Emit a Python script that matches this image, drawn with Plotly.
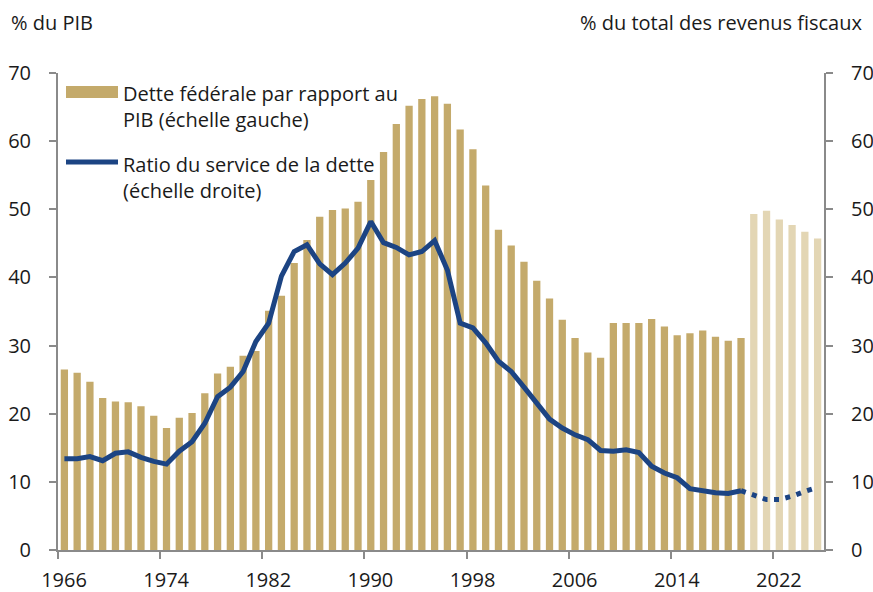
import plotly.graph_objects as go

# ---- data ----
hist_years = list(range(1966, 2020))
proj_years = list(range(2020, 2026))

debt_hist = [26.5, 26.0, 24.7, 22.3, 21.8, 21.7, 21.1, 19.7, 17.9, 19.4,
             20.1, 23.0, 25.9, 26.9, 28.5, 29.2, 35.1, 37.3, 42.1, 45.5,
             48.9, 49.9, 50.1, 51.1, 54.3, 58.4, 62.5, 65.2, 66.2, 66.6,
             65.5, 61.7, 58.8, 53.5, 47.0, 44.7, 42.3, 39.5, 36.9, 33.8,
             31.1, 29.0, 28.2, 33.3, 33.3, 33.3, 33.9, 32.8, 31.5, 31.8,
             32.2, 31.3, 30.7, 31.1]
debt_proj = [49.3, 49.8, 48.5, 47.7, 46.7, 45.7]

service_hist = [13.4, 13.4, 13.7, 13.1, 14.2, 14.4, 13.6, 13.0, 12.6, 14.5,
                15.9, 18.6, 22.5, 23.9, 26.2, 30.6, 33.3, 40.2, 43.8, 44.8,
                42.0, 40.4, 42.1, 44.3, 48.2, 45.1, 44.4, 43.3, 43.8, 45.4,
                41.1, 33.3, 32.6, 30.4, 27.7, 26.2, 23.9, 21.5, 19.2, 17.9,
                16.9, 16.2, 14.6, 14.5, 14.7, 14.3, 12.3, 11.3, 10.6, 9.0,
                8.7, 8.4, 8.3, 8.7]
service_proj = [8.0, 7.4, 7.4, 7.9, 8.6, 9.2]

tick_labels = ["1966", "1974", "1982", "1990", "1998", "2006", "2014", "2022"]
y_ticks = [0, 10, 20, 30, 40, 50, 60, 70]

legend_bar = "Dette fédérale par rapport au<br>PIB (échelle gauche)"
legend_line = "Ratio du service de la dette<br>(échelle droite)"
title_left = "% du PIB"
title_right = "% du total des revenus fiscaux"

# ---- styles ----
BAR_HIST = "#C4AA6B"
BAR_PROJ = "#E3D6B4"
NAVY = "#1C4483"
AXIS = "#8A8A8A"
FONT = "Open Sans"
FS = 20
TXT = "#1a1a1a"

fig = go.Figure()
fig.add_trace(go.Bar(x=hist_years, y=debt_hist, marker=dict(color=BAR_HIST, line=dict(width=0)),
                     showlegend=False))
fig.add_trace(go.Bar(x=proj_years, y=debt_proj, marker=dict(color=BAR_PROJ, line=dict(width=0)),
                     showlegend=False))
fig.add_trace(go.Scatter(x=hist_years, y=service_hist, mode="lines", yaxis="y2",
                         line=dict(color=NAVY, width=5), showlegend=False))
fig.add_trace(go.Scatter(x=[hist_years[-1]] + proj_years, y=[service_hist[-1]] + service_proj,
                         mode="lines", yaxis="y2",
                         line=dict(color=NAVY, width=5, dash="5px,6.5px"), showlegend=False))

W, H = 873, 592
ml, mr, mt, mb = 58, 49, 73, 42
pw, ph = W - ml - mr, H - mt - mb


def px_x(px):
    return (px - ml) / pw


def px_y(py):
    return (H - mb - py) / ph


tickvals_x = [int(t) - 0.5 for t in tick_labels]

axis_common = dict(showline=True, linecolor=AXIS, linewidth=2, ticks="outside",
                   ticklen=7, tickwidth=2, tickcolor=AXIS, showgrid=False, zeroline=False,
                   automargin=False,
                   tickfont=dict(family=FONT, size=FS, color=TXT))

fig.update_layout(
    template="none",
    width=W, height=H,
    margin=dict(l=ml, r=mr, t=mt, b=mb, autoexpand=False),
    paper_bgcolor="white", plot_bgcolor="white",
    barmode="overlay", bargap=0.43,
    font=dict(family=FONT, size=FS, color=TXT),
    xaxis=dict(range=[1965.5, 2025.5], tickvals=tickvals_x, ticktext=tick_labels,
               ticklabelshift=6, ticklabelstandoff=4, **axis_common),
    yaxis=dict(range=[0, 70], tickvals=y_ticks, ticklabelstandoff=14, **axis_common),
    yaxis2=dict(range=[0, 70], tickvals=y_ticks, overlaying="y", side="right",
                ticklabelstandoff=14, **axis_common),
    shapes=[
        dict(type="rect", xref="paper", yref="paper", x0=px_x(66), x1=px_x(118),
             y0=px_y(98), y1=px_y(86), fillcolor=BAR_HIST, line=dict(width=0)),
        dict(type="line", xref="paper", yref="paper", x0=px_x(66), x1=px_x(118),
             y0=px_y(162), y1=px_y(162), line=dict(color=NAVY, width=5)),
    ],
    annotations=[
        dict(text=legend_bar, xref="paper", yref="paper", x=px_x(121), y=px_y(106.5),
             xanchor="left", yanchor="middle", align="left", showarrow=False,
             font=dict(family=FONT, size=FS, color=TXT)),
        dict(text=legend_line, xref="paper", yref="paper", x=px_x(121), y=px_y(177),
             xanchor="left", yanchor="middle", align="left", showarrow=False,
             font=dict(family=FONT, size=FS, color=TXT)),
        dict(text=title_left, xref="paper", yref="paper", x=px_x(9), y=px_y(23),
             xanchor="left", yanchor="middle", showarrow=False,
             font=dict(family=FONT, size=FS, color=TXT)),
        dict(text=title_right, xref="paper", yref="paper", x=px_x(864), y=px_y(23),
             xanchor="right", yanchor="middle", showarrow=False,
             font=dict(family=FONT, size=FS, color=TXT)),
    ],
)

fig.write_html("out.html", config={"displayModeBar": False},
               post_script="document.body.style.margin='0';document.body.style.overflow='hidden';")
